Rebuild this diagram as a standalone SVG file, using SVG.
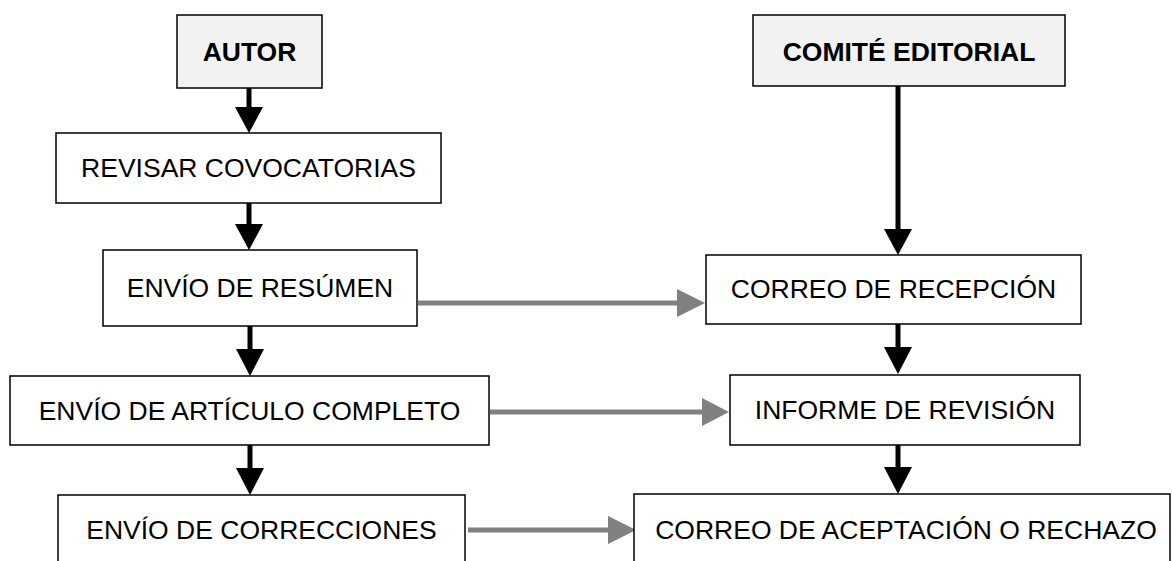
<svg xmlns="http://www.w3.org/2000/svg" width="1172" height="561" viewBox="0 0 1172 561">
<style>
.box{fill:#fff;stroke:#000;stroke-width:1.5}
.hdr{fill:#f2f2f2;stroke:#000;stroke-width:1.5}
.t{font-family:"Liberation Sans",Arial,sans-serif;font-size:26.5px;fill:#000;text-anchor:middle}
.b{font-weight:bold}
.bl{stroke:#000;stroke-width:5;fill:none}
.gl{stroke:#808080;stroke-width:5;fill:none}
.bh{fill:#000}
.gh{fill:#808080}
</style>
<rect x="0" y="0" width="1172" height="561" fill="#fff"/>
<g id="connectors">
<line class="bl" x1="249" y1="88" x2="249" y2="108"/><polygon class="bh" points="235,107 263,107 249,133"/>
<line class="bl" x1="249" y1="203" x2="249" y2="225"/><polygon class="bh" points="235,224 263,224 249,250"/>
<line class="bl" x1="250" y1="326" x2="250" y2="350"/><polygon class="bh" points="236,349 264,349 250,376"/>
<line class="bl" x1="250" y1="445" x2="250" y2="469"/><polygon class="bh" points="236,468 264,468 250,495"/>
<line class="bl" x1="898" y1="86" x2="898" y2="230"/><polygon class="bh" points="884,229 912,229 898,255"/>
<line class="bl" x1="898" y1="324" x2="898" y2="348"/><polygon class="bh" points="884,347 912,347 898,374"/>
<line class="bl" x1="898" y1="445" x2="898" y2="468"/><polygon class="bh" points="884,467 912,467 898,494"/>
<line class="gl" x1="418" y1="303" x2="678" y2="303"/><polygon class="gh" points="677,289 677,317 705,303"/>
<line class="gl" x1="490" y1="412" x2="703" y2="412"/><polygon class="gh" points="702,398 702,426 729,412"/>
<line class="gl" x1="468" y1="530" x2="609" y2="530"/><polygon class="gh" points="608,516 608,544 636,530"/>
</g>
<g id="autor"><rect class="hdr" x="177" y="15" width="145" height="73"/><text class="t b" x="249.5" y="61">AUTOR</text></g>
<g id="comite"><rect class="hdr" x="753" y="15" width="312" height="71"/><text class="t b" x="909" y="61">COMITÉ EDITORIAL</text></g>
<g id="revisar"><rect class="box" x="56" y="133" width="385" height="70"/><text class="t" x="248.5" y="177">REVISAR COVOCATORIAS</text></g>
<g id="resumen"><rect class="box" x="103" y="250" width="314" height="76"/><text class="t" x="260" y="297">ENVÍO DE RESÚMEN</text></g>
<g id="articulo"><rect class="box" x="10" y="376" width="479" height="69"/><text class="t" x="249.5" y="420">ENVÍO DE ARTÍCULO COMPLETO</text></g>
<g id="correcciones"><rect class="box" x="58" y="495" width="407" height="75"/><text class="t" x="261.5" y="539">ENVÍO DE CORRECCIONES</text></g>
<g id="recepcion"><rect class="box" x="706" y="255" width="375" height="69"/><text class="t" x="893.5" y="298">CORREO DE RECEPCIÓN</text></g>
<g id="informe"><rect class="box" x="730" y="375" width="350" height="70"/><text class="t" x="905" y="419">INFORME DE REVISIÓN</text></g>
<g id="aceptacion"><rect class="box" x="634" y="494" width="536" height="75"/><text class="t" x="906" y="539">CORREO DE ACEPTACIÓN O RECHAZO</text></g>
</svg>
